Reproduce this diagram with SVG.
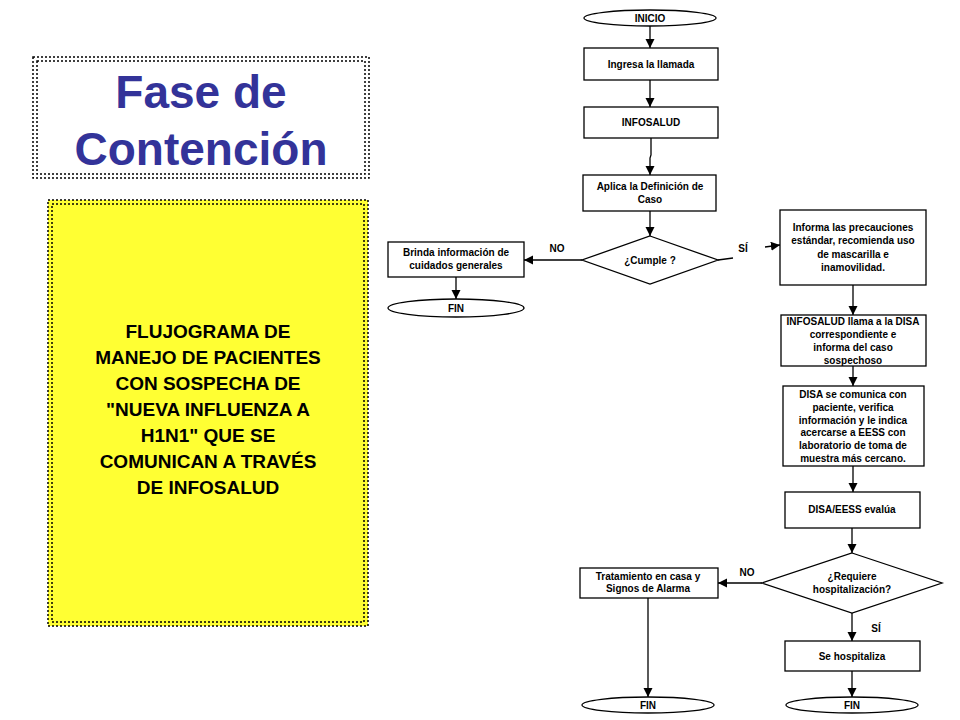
<svg xmlns="http://www.w3.org/2000/svg" width="960" height="720" viewBox="0 0 960 720">
<defs>
<marker id="ah" viewBox="0 0 10 10" refX="10" refY="5" markerWidth="7" markerHeight="7" orient="auto"><path d="M0,0 L10,5 L0,10 z" fill="#000"/></marker>
<style>
.b{fill:#fff;stroke:#000;stroke-width:1.3}
.t{font-family:"Liberation Sans",Arial,sans-serif;font-weight:bold;font-size:10px;fill:#000;text-anchor:middle}
.c{stroke:#000;stroke-width:1.3;fill:none;marker-end:url(#ah)}
.frame{stroke:#000;stroke-width:1.5;stroke-dasharray:2,2;fill:none}
</style>
</defs>
<rect width="960" height="720" fill="#fff"/>
<g id="title">
<rect class="frame" x="33" y="57" width="336" height="121"/>
<rect class="frame" x="37" y="61" width="328" height="113"/>
<text x="201" y="108" font-family="Liberation Sans,Arial,sans-serif" font-weight="bold" font-size="46" fill="#333399" text-anchor="middle">Fase de</text>
<text x="201" y="165" font-family="Liberation Sans,Arial,sans-serif" font-weight="bold" font-size="46" fill="#333399" text-anchor="middle">Contención</text>
</g>
<g id="desc">
<rect x="48" y="200" width="320" height="426" fill="#ffff33"/>
<rect class="frame" x="48" y="200" width="320" height="426"/>
<rect class="frame" x="52" y="204" width="312" height="418"/>
<g font-family="Liberation Sans,Arial,sans-serif" font-weight="bold" font-size="19" text-anchor="middle" fill="#000">
<text x="208" y="338">FLUJOGRAMA DE</text>
<text x="208" y="364">MANEJO DE PACIENTES</text>
<text x="208" y="390">CON SOSPECHA DE</text>
<text x="208" y="416">"NUEVA INFLUENZA A</text>
<text x="208" y="442">H1N1" QUE SE</text>
<text x="208" y="468">COMUNICAN A TRAVÉS</text>
<text x="208" y="494">DE INFOSALUD</text>
</g>
</g>
<g id="connectors">
<line class="c" x1="650" y1="26" x2="650" y2="48"/>
<line class="c" x1="650" y1="80" x2="650" y2="107"/>
<polyline class="c" points="651,138 651,155 650,158 650,175"/>
<line class="c" x1="650" y1="211" x2="650" y2="236"/>
<line class="c" x1="582" y1="260" x2="524" y2="260"/>
<line class="c" x1="456" y1="277" x2="456" y2="299"/>
<line x1="718" y1="260" x2="733" y2="258" stroke="#000" stroke-width="1.3"/>
<line class="c" x1="765" y1="247" x2="780" y2="245"/>
<line class="c" x1="853" y1="285" x2="853" y2="315"/>
<line class="c" x1="853" y1="366" x2="853" y2="386"/>
<line class="c" x1="853" y1="466" x2="853" y2="492"/>
<line class="c" x1="852" y1="528" x2="852" y2="553"/>
<line class="c" x1="762" y1="583" x2="718" y2="583"/>
<line class="c" x1="852" y1="613" x2="852" y2="641"/>
<line class="c" x1="648" y1="598" x2="648" y2="697"/>
<line class="c" x1="852" y1="671" x2="852" y2="697"/>
<text class="t" x="557" y="252">NO</text>
<text class="t" x="743" y="252">SÍ</text>
<text class="t" x="747" y="576">NO</text>
<text class="t" x="876" y="632">SÍ</text>
</g>
<g id="inicio"><ellipse class="b" cx="650" cy="18" rx="66" ry="8"/><text class="t" x="650" y="22">INICIO</text></g>
<g id="ingresa"><rect class="b" x="584" y="48" width="134" height="32"/><text class="t" x="651" y="68">Ingresa la llamada</text></g>
<g id="infosalud"><rect class="b" x="584" y="107" width="134" height="31"/><text class="t" x="651" y="126">INFOSALUD</text></g>
<g id="aplica"><rect class="b" x="583" y="175" width="133" height="36"/><text class="t" x="650" y="190">Aplica la Definición de</text><text class="t" x="650" y="203">Caso</text></g>
<g id="cumple"><polygon class="b" points="650,236 718,260 650,284 582,260"/><text class="t" x="650" y="264">¿Cumple ?</text></g>
<g id="brinda"><rect class="b" x="388" y="242" width="136" height="35"/><text class="t" x="456" y="256">Brinda información de</text><text class="t" x="456" y="269">cuidados generales</text></g>
<g id="fin1"><ellipse class="b" cx="456" cy="308" rx="68" ry="9"/><text class="t" x="456" y="312">FIN</text></g>
<g id="informa"><rect class="b" x="780" y="210" width="146" height="75"/><text class="t" x="853" y="231">Informa las precauciones</text><text class="t" x="853" y="244">estándar, recomienda uso</text><text class="t" x="853" y="258">de mascarilla e</text><text class="t" x="853" y="271">inamovilidad.</text></g>
<g id="llama"><rect class="b" x="781" y="315" width="145" height="51"/><text class="t" x="853" y="325">INFOSALUD llama a la DISA</text><text class="t" x="853" y="338">correspondiente e</text><text class="t" x="853" y="351">informa del caso</text><text class="t" x="853" y="364">sospechoso</text></g>
<g id="disa"><rect class="b" x="783" y="386" width="141" height="80"/><text class="t" x="853" y="398">DISA se comunica con</text><text class="t" x="853" y="411">paciente, verifica</text><text class="t" x="853" y="424">información y le indica</text><text class="t" x="853" y="436">acercarse a EESS con</text><text class="t" x="853" y="449">laboratorio de toma de</text><text class="t" x="853" y="462">muestra más cercano.</text></g>
<g id="evalua"><rect class="b" x="785" y="492" width="135" height="36"/><text class="t" x="852" y="513">DISA/EESS evalúa</text></g>
<g id="requiere"><polygon class="b" points="852,553 942,583 852,613 762,583"/><text class="t" x="852" y="580">¿Requiere</text><text class="t" x="852" y="593">hospitalización?</text></g>
<g id="tratamiento"><rect class="b" x="580" y="568" width="138" height="30"/><text class="t" x="648" y="580">Tratamiento en casa y</text><text class="t" x="648" y="592">Signos de Alarma</text></g>
<g id="hosp"><rect class="b" x="785" y="641" width="135" height="30"/><text class="t" x="852" y="660">Se hospitaliza</text></g>
<g id="fin2"><ellipse class="b" cx="648" cy="705" rx="66" ry="8"/><text class="t" x="648" y="709">FIN</text></g>
<g id="fin3"><ellipse class="b" cx="852" cy="705" rx="66" ry="8"/><text class="t" x="852" y="709">FIN</text></g>
</svg>
